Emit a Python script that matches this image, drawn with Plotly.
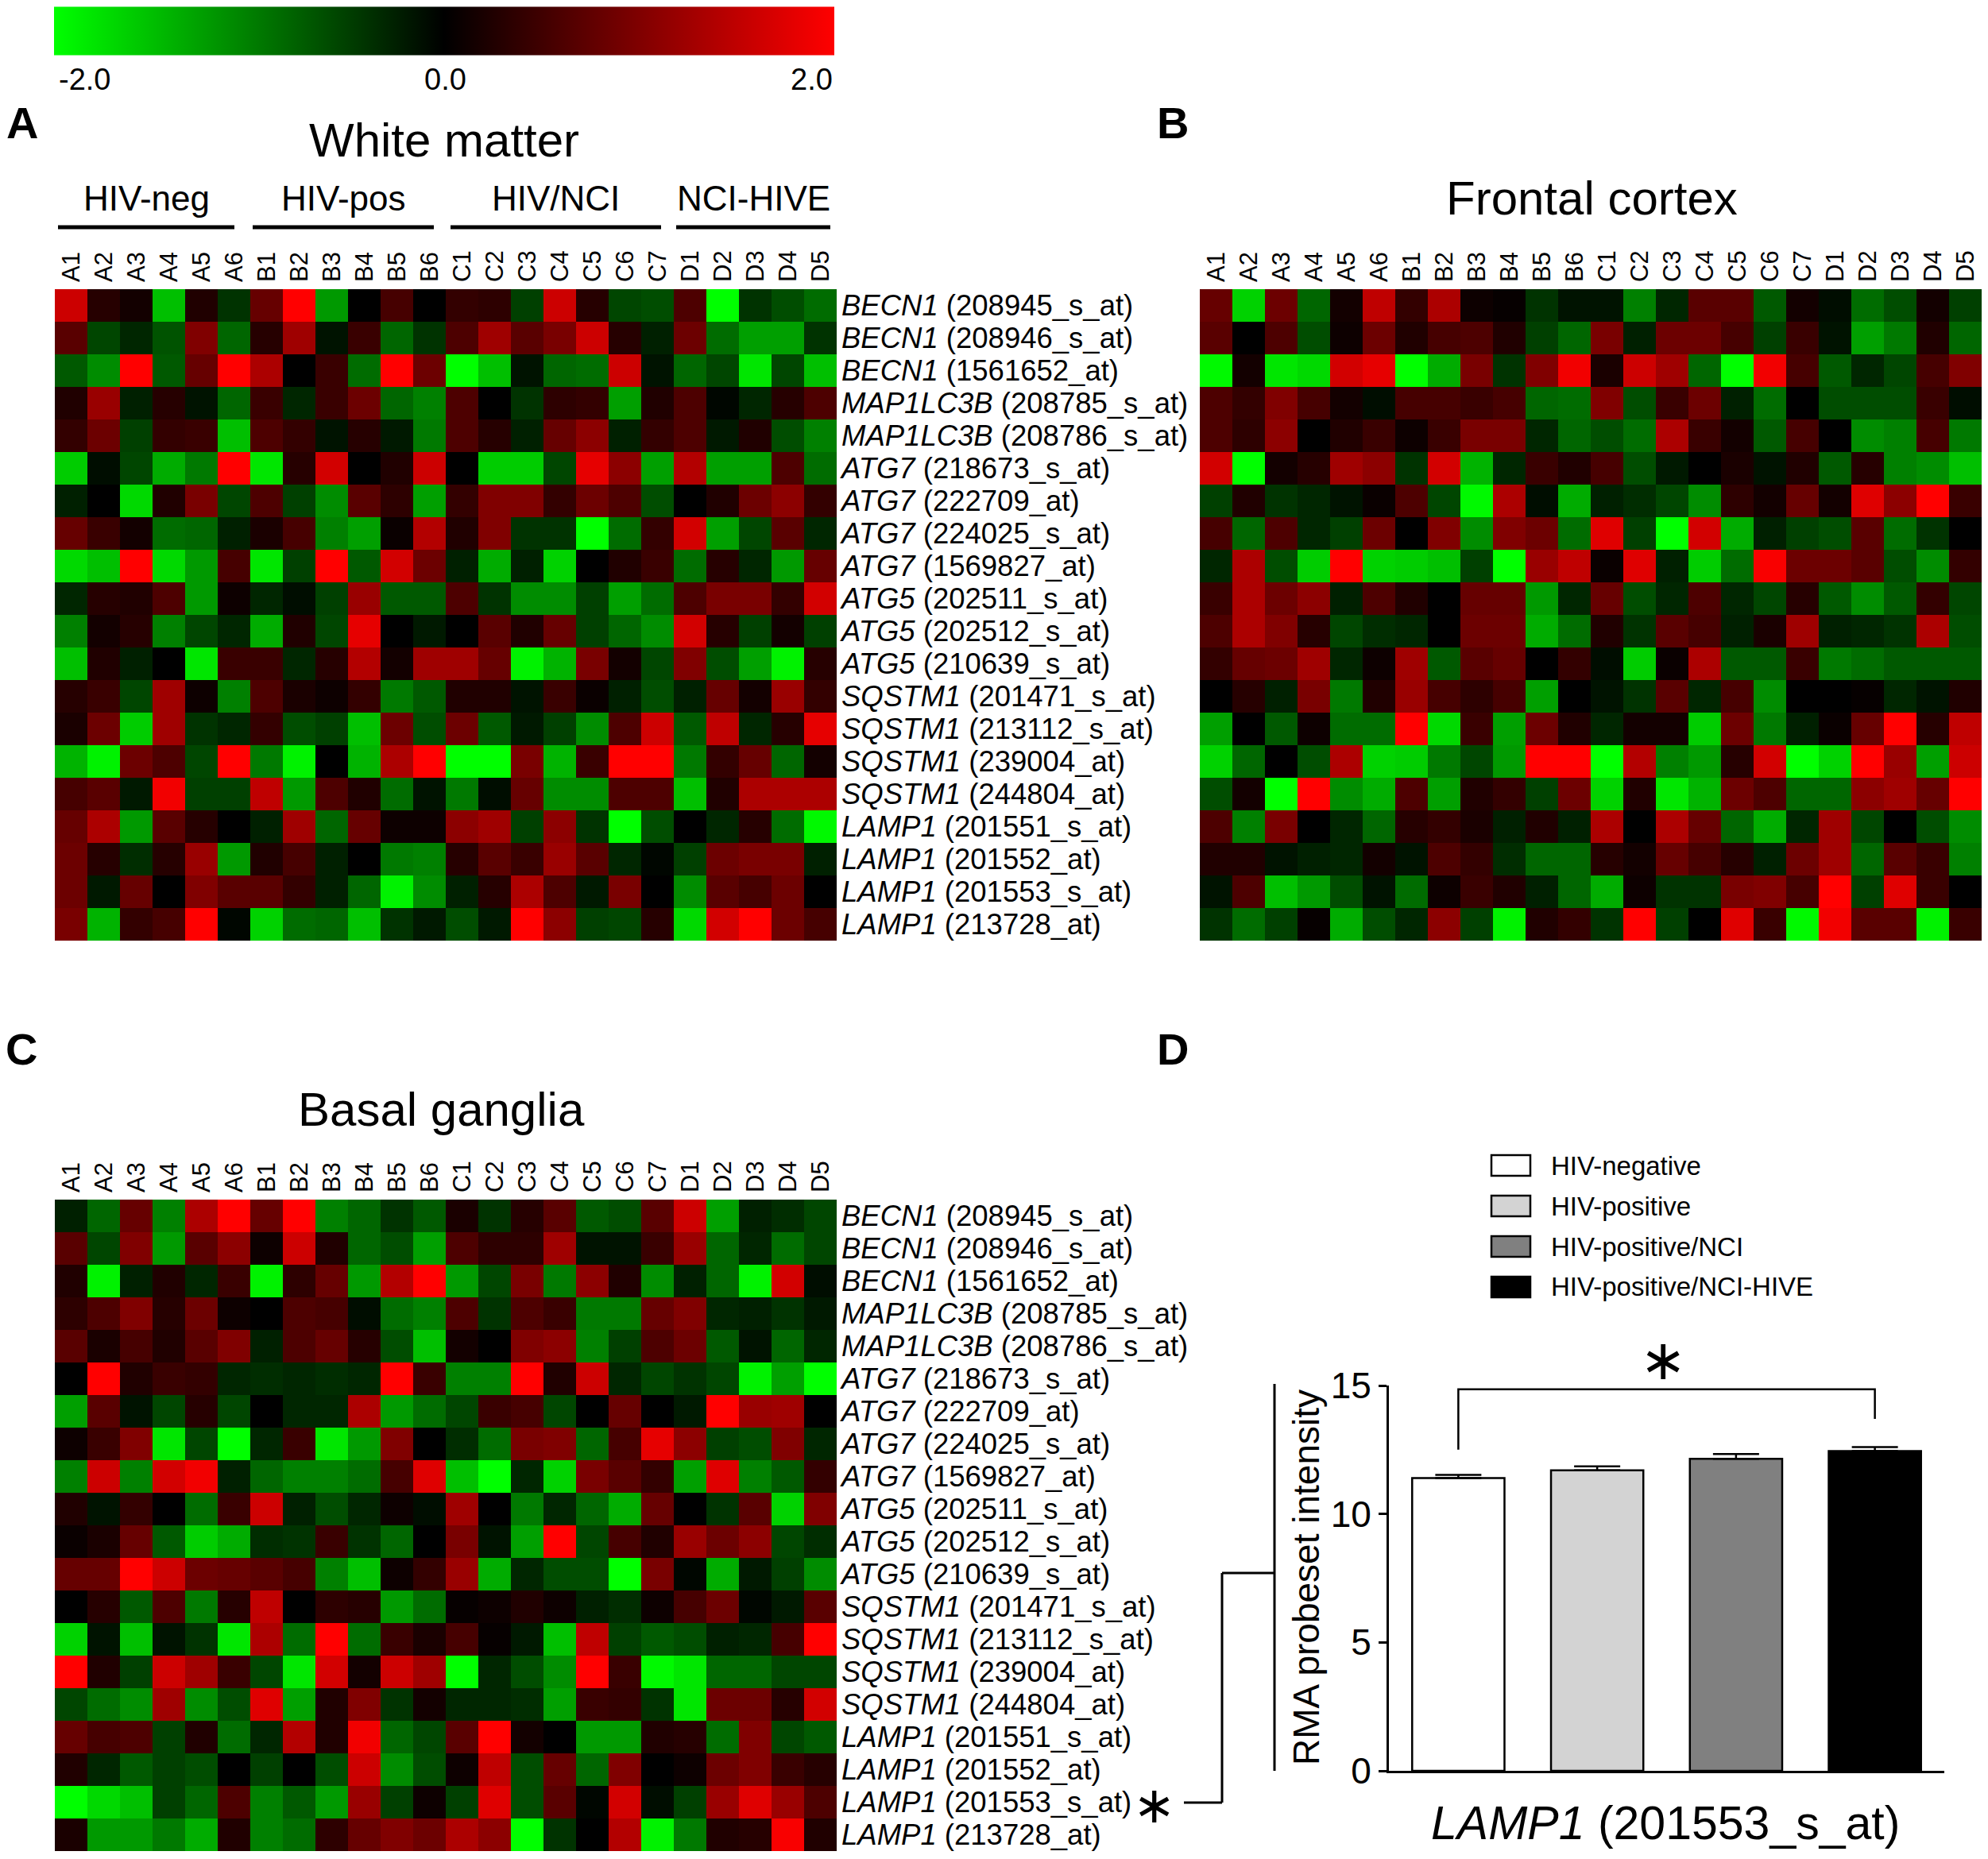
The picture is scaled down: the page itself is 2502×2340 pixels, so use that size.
import plotly.graph_objects as go

# page has an 8px body margin, so the figure is drawn 8px smaller and positions are shifted
OFF = 8
W, H = 2502 - OFF, 2340 - OFF
FONT = "Liberation Sans, Arial, sans-serif"

# sample columns (same for all three regions)
samples = ['A1', 'A2', 'A3', 'A4', 'A5', 'A6', 'B1', 'B2', 'B3', 'B4', 'B5', 'B6',
           'C1', 'C2', 'C3', 'C4', 'C5', 'C6', 'C7', 'D1', 'D2', 'D3', 'D4', 'D5']

genes = ['BECN1', 'BECN1', 'BECN1', 'MAP1LC3B', 'MAP1LC3B', 'ATG7', 'ATG7', 'ATG7', 'ATG7',
         'ATG5', 'ATG5', 'ATG5', 'SQSTM1', 'SQSTM1', 'SQSTM1', 'SQSTM1',
         'LAMP1', 'LAMP1', 'LAMP1', 'LAMP1']
probes = ['208945_s_at', '208946_s_at', '1561652_at', '208785_s_at', '208786_s_at',
          '218673_s_at', '222709_at', '224025_s_at', '1569827_at', '202511_s_at',
          '202512_s_at', '210639_s_at', '201471_s_at', '213112_s_at', '239004_at',
          '244804_at', '201551_s_at', '201552_at', '201553_s_at', '213728_at']

# White matter
wm_z = [
    [1.6, 0.3, 0.15, -1.5, 0.25, -0.4, 0.8, 2.0, -1.2, 0.0, 0.55, 0.0, 0.4, 0.35, -0.5, 1.6, 0.3, -0.55, -0.6, 0.6, -2.0, -0.4, -0.6, -0.85],
    [0.7, -0.55, -0.3, -0.65, 1.0, -0.8, 0.3, 1.25, -0.15, 0.45, -0.8, -0.4, 0.6, 1.25, 0.7, 0.95, 1.6, 0.3, -0.25, 0.85, -0.85, -1.25, -1.25, -0.4],
    [-0.7, -1.1, 2.0, -0.7, 0.8, 2.0, 1.35, 0.0, 0.45, -0.85, 2.0, 0.85, -2.0, -1.5, -0.15, -0.8, -0.85, 1.6, -0.15, -0.8, -0.55, -1.8, -0.55, -1.5],
    [0.25, 1.2, -0.25, 0.3, -0.15, -0.8, 0.45, -0.3, 0.45, 0.85, -0.8, -1.0, 0.6, 0.0, -0.4, 0.35, 0.4, -1.25, 0.25, 0.6, -0.05, -0.3, 0.3, 0.6],
    [0.4, 0.85, -0.5, 0.4, 0.45, -1.5, 0.6, 0.4, -0.15, 0.3, -0.2, -0.95, 0.6, 0.3, -0.25, 0.8, 1.1, -0.25, 0.4, 0.6, -0.2, 0.25, -0.6, -1.0],
    [-1.6, -0.1, -0.55, -1.35, -0.95, 2.0, -1.8, 0.3, 1.65, 0.0, 0.25, 1.6, 0.0, -1.6, -1.6, -0.55, 1.8, 1.1, -1.25, 1.4, -1.25, -1.25, 0.6, -0.85],
    [-0.25, 0.0, -1.7, 0.25, 0.95, -0.55, 0.6, -0.5, -1.1, 0.7, 0.35, -1.25, 0.4, 1.0, 1.0, 0.4, 0.85, 0.6, -0.6, 0.0, 0.25, 0.85, 1.1, 0.4],
    [0.8, 0.45, 0.15, -0.85, -0.8, -0.25, 0.2, 0.55, -1.0, -1.25, 0.08, 1.4, 0.25, 1.0, -0.4, -0.4, -2.0, -0.85, 0.4, 1.65, -1.25, -0.55, 0.7, -0.3],
    [-1.7, -1.5, 2.0, -1.7, -1.2, 0.55, -1.8, -0.5, 2.0, -0.7, 1.65, 0.85, -0.25, -1.35, -0.25, -1.65, 0.0, 0.25, 0.45, -0.85, 0.3, -0.3, -1.2, 0.8],
    [-0.3, 0.3, 0.25, 0.6, -1.2, 0.1, -0.3, -0.1, -0.5, 1.2, -0.7, -0.7, 0.6, -0.4, -1.1, -1.1, -0.5, -1.25, -0.85, 0.6, 0.95, 0.95, 0.4, 1.65],
    [-1.0, 0.15, 0.3, -1.0, -0.55, -0.3, -1.35, 0.25, -0.55, 1.8, 0.0, -0.2, 0.0, 0.7, 0.25, 0.8, -0.5, -0.8, -1.1, 1.65, 0.3, -0.5, 0.15, -0.5],
    [-1.5, 0.25, -0.25, 0.0, -1.8, 0.45, 0.45, -0.3, 0.3, 1.4, 0.15, 1.25, 1.25, 0.8, -1.9, -1.4, 0.95, 0.15, -0.55, 1.0, -0.6, -1.25, -1.9, 0.3],
    [0.3, 0.45, -0.55, 1.25, 0.1, -1.0, 0.6, 0.2, 0.1, 0.4, -0.95, -0.7, 0.25, 0.25, -0.15, 0.45, 0.08, -0.25, -0.6, -0.25, 0.8, 0.15, 1.2, 0.4],
    [0.2, 0.85, -1.6, 1.25, -0.4, -0.3, 0.4, -0.6, -0.5, -1.5, 0.85, -0.6, 0.85, -0.7, -0.2, -0.5, -1.1, 0.6, 1.6, -0.7, 1.5, -0.3, 0.3, 1.8],
    [-1.4, -1.9, 0.85, 0.6, -0.55, 2.0, -0.95, -1.9, 0.0, -1.4, 1.35, 2.0, -2.0, -2.0, 0.95, -1.4, 0.45, 2.0, 2.0, -0.95, 0.4, 0.8, -0.8, 0.15],
    [0.55, 0.7, -0.2, 1.9, -0.5, -0.5, 1.5, -1.2, 0.6, 0.25, -0.85, -0.15, -0.95, -0.1, 0.8, -1.1, -1.1, 0.6, 0.6, -1.5, 0.25, 1.35, 1.35, 1.35],
    [0.8, 1.35, -1.2, 0.7, 0.3, 0.0, -0.25, 1.25, -0.8, 0.8, 0.1, 0.1, 1.1, 1.25, -0.5, 1.1, -0.4, -2.0, -0.6, 0.0, -0.3, 0.3, -0.85, -1.95],
    [0.85, 0.3, -0.35, 0.3, 1.2, -1.2, 0.25, 0.55, -0.25, 0.0, -0.95, -1.0, 0.3, 0.7, 0.45, 1.2, 0.7, -0.3, -0.05, -0.5, 0.85, 0.95, 0.95, -0.25],
    [0.85, -0.2, 0.8, 0.0, 1.0, 0.7, 0.7, 0.4, -0.25, -0.8, -1.9, -1.1, -0.25, 0.3, 1.35, 0.6, -0.2, 0.95, 0.0, -1.1, 0.7, 0.55, 0.85, 0.0],
    [0.95, -1.4, 0.4, 0.55, 2.0, -0.05, -1.65, -0.85, -0.8, -1.5, -0.4, -0.2, -0.6, -0.2, 2.0, 1.1, -0.5, -0.55, 0.3, -1.7, 1.65, 2.0, 0.85, 0.55],
]

# Frontal cortex
fc_z = [
    [0.8, -1.65, 0.85, -0.8, 0.15, 1.5, 0.4, 1.35, 0.1, 0.05, -0.4, -0.15, -0.15, -1.0, -0.3, 0.7, 0.7, -0.7, 0.15, -0.1, -0.85, -0.6, 0.15, -0.5],
    [0.7, 0.0, 0.6, -0.6, 0.1, 0.85, 0.25, 0.55, 0.6, 0.25, -0.5, -0.8, 0.95, -0.25, 0.85, 0.85, 0.55, -0.5, 0.45, -0.15, -1.25, -0.95, 0.25, -0.8],
    [-1.95, 0.15, -1.8, -1.7, 1.65, 1.8, -2.0, -1.35, 0.95, -0.4, 1.0, 1.9, 0.2, 1.6, 1.25, -0.8, -2.0, 1.9, 0.55, -0.7, -0.3, -0.55, 0.55, 1.0],
    [0.6, 0.4, 1.0, 0.55, 0.15, -0.1, 0.55, 0.55, 0.45, 0.55, -0.8, -0.85, 1.0, -0.6, 0.45, 0.85, -0.25, -0.85, 0.0, -0.6, -0.6, -0.6, 0.45, -0.1],
    [0.6, 0.35, 1.1, 0.0, 0.25, 0.45, 0.1, 0.45, 0.95, 0.95, -0.3, -0.8, -0.6, -0.85, 1.35, 0.45, 0.15, -0.7, 0.55, 0.0, -1.1, -1.0, 0.55, -0.95],
    [1.65, -2.0, 0.15, 0.3, 1.25, 1.1, -0.4, 1.65, -1.4, -0.3, 0.45, 0.25, 0.55, -0.6, -0.2, 0.0, 0.2, -0.15, 0.25, -0.7, 0.3, -1.0, -1.1, -1.5],
    [-0.5, 0.25, -0.4, -0.3, -0.15, 0.08, 0.6, -0.55, -1.95, 1.35, -0.1, -1.35, -0.25, -0.35, -0.55, -1.1, 0.35, 0.15, 0.8, 0.15, 1.75, 1.1, 2.0, 0.45],
    [0.55, -0.8, 0.6, -0.3, -0.5, 0.85, 0.0, 1.0, -1.1, 1.0, 0.85, -0.85, 1.75, -0.5, -2.0, 1.65, -1.35, -0.25, -0.5, -0.6, 0.7, -0.85, -0.4, 0.0],
    [-0.3, 1.35, -0.6, -1.6, 2.0, -1.65, -1.6, -1.5, -0.5, -2.0, 1.2, 1.5, 0.08, 1.75, -0.25, -1.6, -0.85, 1.95, 0.85, 0.85, 0.7, -0.6, -1.1, 0.4],
    [0.45, 1.35, 0.85, 1.1, -0.25, 0.6, 0.25, 0.0, 0.8, 0.8, -1.2, -0.3, 0.8, -0.6, -0.3, 0.6, -0.3, -0.55, 0.3, -0.7, -1.1, -0.7, 0.4, -0.55],
    [0.6, 1.35, 1.0, 0.3, -0.55, -0.35, -0.3, 0.0, 0.85, 0.85, -1.35, -0.85, 0.25, -0.4, 0.7, 0.55, -0.25, 0.2, 1.25, -0.25, -0.3, -0.4, 1.35, -0.6],
    [0.4, 0.8, 0.85, 1.25, -0.3, 0.1, 1.25, -0.7, 0.7, 0.8, 0.0, 0.4, -0.1, -1.6, 0.08, 1.35, -0.7, -0.7, 0.45, -0.95, -0.85, -0.7, -0.7, -0.7],
    [0.0, 0.3, -0.25, 0.95, -0.95, 0.25, 1.2, 0.55, 0.35, 0.55, -1.25, 0.0, -0.15, -0.4, 0.7, -0.3, 0.55, -1.1, 0.0, 0.0, 0.05, -0.3, -0.15, 0.25],
    [-1.25, 0.0, -0.7, 0.1, -0.85, -0.85, 2.0, -1.7, 0.45, -1.25, 0.85, 0.25, -0.3, 0.15, 0.15, -1.6, 0.85, -0.95, -0.25, 0.08, 0.8, 2.0, 0.3, 1.5],
    [-1.65, -0.8, 0.0, -0.6, 1.35, -1.65, -1.6, -0.95, -0.55, -1.2, 2.0, 2.0, -2.0, 1.4, -1.0, -1.2, 0.3, 1.65, -2.0, -1.65, 2.0, 1.2, -1.25, 1.6],
    [-0.6, 0.15, -2.0, 2.0, -1.1, -1.35, 0.6, -1.25, 0.25, 0.4, -0.5, 0.85, -1.65, 0.25, -1.8, -1.4, 0.85, 0.6, -0.8, -0.8, 1.1, 1.25, 0.8, 2.0],
    [0.6, -1.0, 0.95, 0.0, -0.3, -0.8, 0.3, 0.4, 0.2, -0.25, 0.25, -0.25, 1.35, 0.0, 1.35, 0.8, -0.8, -1.35, -0.3, 1.25, -0.55, 0.0, -0.6, -1.1],
    [0.25, 0.25, -0.15, -0.25, -0.3, 0.15, -0.15, 0.6, 0.4, -0.35, -0.8, -0.8, 0.3, 0.15, 0.8, 0.55, 0.3, -0.25, 0.85, 1.25, -0.8, 0.7, 0.45, -1.0],
    [-0.15, 0.6, -1.5, -1.2, -0.6, -0.15, -0.85, 0.1, 0.45, 0.25, -0.25, -0.8, -1.35, 0.1, -0.4, -0.4, 0.95, 1.0, 0.55, 2.0, -0.5, 1.75, 0.45, 0.0],
    [-0.4, -0.85, -0.5, 0.05, -1.35, -0.6, -0.3, 1.1, -0.5, -1.9, 0.25, 0.4, -0.4, 2.0, -0.5, 0.0, 1.75, 0.45, -1.95, 1.9, 0.7, 0.7, -1.9, 0.45],
]

# Basal ganglia
bg_z = [
    [-0.25, -0.8, 0.8, -1.0, 1.35, 2.0, 0.8, 2.0, -1.0, -0.8, -0.4, -0.7, 0.2, -0.4, 0.3, 0.7, -0.7, -0.6, 0.7, 1.6, -1.25, -0.25, -0.35, -0.55],
    [0.7, -0.55, 1.0, -1.2, 0.7, 1.1, 0.1, 1.6, 0.25, -0.8, -0.6, -1.25, 0.6, 0.35, 0.35, 1.25, -0.15, -0.15, 0.45, 1.2, -0.8, -0.3, -0.85, -0.55],
    [0.25, -1.9, -0.25, 0.25, -0.3, 0.45, -1.9, 0.35, 0.8, -1.2, 1.4, 2.0, -1.2, -0.55, 0.95, -0.95, 1.1, 0.25, -1.1, -0.25, -0.8, -1.9, 1.65, -0.1],
    [0.35, 0.6, 1.0, 0.3, 0.85, 0.1, 0.0, 0.6, 0.55, -0.1, -0.85, -1.0, 0.6, -0.4, 0.6, 0.45, -0.95, -0.95, 0.8, 1.0, -0.3, -0.25, -0.4, -0.2],
    [0.7, 0.2, 0.55, 0.25, 0.7, 1.0, -0.25, 0.6, 0.8, 0.3, -0.6, -1.5, 0.15, 0.0, 1.0, 1.1, -1.0, -0.5, 0.6, 0.85, -0.7, -0.15, -0.8, -0.3],
    [0.0, 2.0, 0.25, 0.45, 0.4, -0.3, -0.35, -0.3, -0.35, -0.3, 2.0, 0.45, -1.0, -1.0, 2.0, 0.25, 1.6, -0.3, -0.55, -0.4, -0.55, -1.9, -1.25, -2.0],
    [-1.25, 0.7, -0.15, -0.55, 0.3, -0.55, 0.0, -0.3, -0.3, 1.35, -1.2, -0.85, -0.55, 0.45, 0.55, -0.55, 0.0, 0.8, 0.0, -0.2, 2.0, 1.2, 1.25, 0.0],
    [0.1, 0.45, 1.0, -1.8, -0.55, -2.0, -0.3, 0.45, -1.8, -1.2, 1.0, 0.0, -0.35, -0.85, 0.95, 1.0, -0.8, 0.55, 1.8, 1.1, -0.5, -0.6, 1.0, -0.3],
    [-1.0, 1.6, -1.0, 1.65, 1.9, -0.25, -0.8, -1.0, -1.0, -0.85, 0.55, 1.75, -1.5, -2.0, -0.3, -1.65, 0.95, 0.7, 0.4, -1.25, 1.75, -1.0, -0.7, 0.4],
    [0.25, -0.15, 0.4, 0.0, -0.85, 0.45, 1.6, -0.25, -0.6, -0.3, 0.1, -0.1, 1.25, 0.0, -0.95, -0.3, -0.8, -1.35, 0.8, 0.0, -0.4, 0.7, -1.65, 1.0],
    [0.08, 0.2, 0.8, -0.7, -1.6, -1.35, -0.35, -0.4, 0.45, -0.4, -0.8, 0.0, 0.95, -0.15, -1.25, 2.0, -0.55, 0.55, 0.25, 1.2, 0.85, 1.1, -0.55, -0.35],
    [0.8, 0.8, 2.0, 1.6, 0.85, 0.8, 0.7, 0.55, -1.0, -1.5, 0.1, 0.4, 1.2, -1.35, -0.3, -0.6, -0.6, -2.0, 0.95, -0.05, -1.35, -0.2, -0.5, -1.1],
    [0.0, 0.3, -0.7, 0.6, -0.95, 0.3, 1.5, 0.0, 0.35, 0.3, -1.2, -0.85, 0.05, 0.1, 0.25, 0.1, -0.25, -0.35, 0.1, 0.55, 0.85, -0.05, -0.2, 0.7],
    [-1.65, -0.15, -1.5, -0.15, -0.4, -1.8, 1.35, -0.85, 2.0, -0.85, 0.45, 0.2, 0.55, 0.05, -0.2, -1.5, 1.5, -0.5, -0.7, -0.6, -0.25, -0.3, 0.55, 2.0],
    [2.0, 0.25, -0.5, 1.6, 1.25, 0.45, -0.55, -1.8, 1.65, 0.15, 1.6, 1.25, -2.0, -0.3, -0.6, -1.1, 2.0, 0.45, -1.95, -1.8, -0.8, -0.8, -0.55, -0.55],
    [-0.55, -0.85, -1.1, 1.25, -1.1, -0.6, 1.75, -1.25, 0.25, 1.0, -0.4, 0.15, -0.3, -0.3, -0.35, -1.25, 0.45, 0.4, -0.4, -1.8, 0.85, 0.85, 0.3, 1.65],
    [0.8, 0.55, 0.6, -0.5, 0.25, -0.85, -0.3, 1.4, 0.25, 1.9, -0.8, -0.55, 0.7, 2.0, 0.15, 0.0, -1.2, -1.2, 0.25, 0.3, -0.85, 1.0, -0.55, -0.7],
    [0.25, -0.3, -0.7, -0.5, -0.6, 0.0, -0.5, 0.0, -0.6, 1.6, -1.1, -0.6, 0.1, 1.5, -0.6, 0.8, -0.8, 1.0, 0.0, 0.1, 0.85, 1.0, 0.45, 0.3],
    [-2.0, -1.7, -1.5, -0.5, -0.8, 0.6, -1.0, -0.7, -1.2, 1.2, -0.5, 0.1, -0.5, 1.75, -0.6, 0.7, -0.05, 1.65, -0.1, -0.5, 1.2, 1.75, 1.2, 0.6],
    [0.2, -1.2, -1.2, -0.95, -1.35, 0.25, -1.0, -0.85, 0.35, 0.8, 1.0, 0.85, 1.35, 1.1, -2.0, -0.4, 0.0, 1.4, -1.9, -0.95, 0.25, 0.3, 1.95, 0.25],
]

# LAMP1 (201553_s_at) RMA intensity
groups = ['HIV-negative', 'HIV-positive', 'HIV-positive/NCI', 'HIV-positive/NCI-HIVE']
means = [11.4, 11.7, 12.15, 12.45]
sems = [0.12, 0.15, 0.18, 0.15]
bar_colors = ['#ffffff', '#d3d3d3', '#808080', '#000000']
bracket_y = 14.85
bracket_ends = [12.5, 13.7]

green_black_red = [[0, '#00ff00'], [0.5, '#000000'], [1, '#ff0000']]


def px(x):
    return (x - OFF) / W


def py(y):
    return 1 - (y - OFF) / H


row_labels = ['<i>%s</i> (%s)' % (g, p) for g, p in zip(genes, probes)]
cols = list(range(len(samples)))
rows = list(range(len(genes)))

fig = go.Figure()
for z, xa, ya, scale in [(wm_z, 'x', 'y', True), (fc_z, 'x2', 'y2', False), (bg_z, 'x3', 'y3', False)]:
    fig.add_trace(go.Heatmap(
        z=z, x=cols, y=rows, xaxis=xa, yaxis=ya,
        colorscale=green_black_red, zmin=-2, zmax=2, showscale=scale,
        colorbar=dict(orientation='h', x=px(559), xanchor='center', y=py(38.5), yanchor='middle',
                      len=982, lenmode='pixels', thickness=61, outlinewidth=0,
                      showticklabels=False, ticks='', xpad=0, ypad=0),
        hoverinfo='skip'))

fig.add_trace(go.Bar(
    x=list(range(len(groups))), y=means, xaxis='x4', yaxis='y4', width=0.665,
    marker=dict(color=bar_colors, line=dict(color='black', width=2.5)),
    error_y=dict(type='data', array=sems, arrayminus=[0] * len(sems), symmetric=False,
                 color='black', thickness=2.5, width=29),
    showlegend=False))

col_axis = dict(side='top', range=[-0.5, 23.5], tickvals=cols, ticktext=samples, tickangle=-90,
                tickfont=dict(size=31, family=FONT, color='black'), showgrid=False, zeroline=False,
                showline=False, ticks='', ticklabelstandoff=8)
row_axis = dict(side='right', range=[19.5, -0.5], tickvals=rows, ticktext=row_labels,
                tickfont=dict(size=36.5, family=FONT, color='black'), showgrid=False, zeroline=False,
                showline=False, ticks='', ticklabelstandoff=5)

hm_top = (364, 1184)
hm_bot = (1510, 2330)
fig.update_layout(
    width=W, height=H, margin=dict(l=0, r=0, t=0, b=0, autoexpand=False),
    paper_bgcolor='white', plot_bgcolor='white', font=dict(family=FONT, color='black'),
    xaxis=dict(col_axis, domain=[px(69), px(1053)], anchor='y'),
    yaxis=dict(row_axis, domain=[py(hm_top[1]), py(hm_top[0])], anchor='x'),
    xaxis2=dict(col_axis, domain=[px(1510), px(2494)], anchor='y2'),
    yaxis2=dict(row_axis, domain=[py(hm_top[1]), py(hm_top[0])], anchor='x2', showticklabels=False),
    xaxis3=dict(col_axis, domain=[px(69), px(1053)], anchor='y3'),
    yaxis3=dict(row_axis, domain=[py(hm_bot[1]), py(hm_bot[0])], anchor='x3'),
    xaxis4=dict(domain=[px(1748), px(2447)], anchor='y4', range=[-0.5, 3.5], showline=True,
                linewidth=3, linecolor='black', showticklabels=False, ticks='', showgrid=False,
                zeroline=False),
    yaxis4=dict(domain=[py(2229), py(1744)], anchor='x4', range=[0, 15], tickvals=[0, 5, 10, 15],
                ticks='outside', ticklen=10, tickwidth=3, tickcolor='black', showline=True,
                linewidth=3, linecolor='black', showgrid=False, zeroline=False,
                tickfont=dict(size=46, family=FONT, color='black')),
)

ann = []


def text(x, y, s, size, xanchor='center', yanchor='middle', angle=0, family=FONT):
    ann.append(dict(x=px(x), y=py(y), xref='paper', yref='paper', text=s, showarrow=False,
                    xanchor=xanchor, yanchor=yanchor, textangle=angle,
                    font=dict(size=size, family=family, color='black')))


# colour key labels
text(72, 100, '-2.0', 38, xanchor='left')
text(560, 100, '0.0', 38)
text(1050, 100, '2.0', 38, xanchor='right')

# panel letters and titles
for lab, x, y in [('A', 28, 154), ('B', 1476, 155), ('C', 27, 1320), ('D', 1476, 1320)]:
    text(x, y, '<b>%s</b>' % lab, 56)
text(559, 176, 'White matter', 60)
text(2003, 250, 'Frontal cortex', 60)
text(555, 1396, 'Basal ganglia', 60)

# group headers over white matter
group_names = ['HIV-neg', 'HIV-pos', 'HIV/NCI', 'NCI-HIVE']
group_spans = [(73, 295), (318, 546), (567, 832), (851, 1045)]
shapes = []
for name, (x0, x1) in zip(group_names, group_spans):
    text((x0 + x1) / 2, 250, name, 44)
    shapes.append(dict(type='line', xref='paper', yref='paper', x0=px(x0), x1=px(x1),
                       y0=py(286), y1=py(286), line=dict(color='black', width=5)))

# marker next to the LAMP1 probe in basal ganglia and link to panel D
text(1453, 2272, '\u2217', 64, family='DejaVu Sans')
for x0, y0, x1, y1 in [(1490, 2269, 1538, 2269), (1538, 2269, 1538, 1980),
                       (1538, 1980, 1604, 1980), (1604, 1742, 1604, 2229)]:
    shapes.append(dict(type='line', xref='paper', yref='paper', x0=px(x0), y0=py(y0),
                       x1=px(x1), y1=py(y1), line=dict(color='black', width=3)))

# bar chart texts
text(1644, 1986, 'RMA probeset intensity', 46, angle=-90)
text(2096, 2295, '<i>LAMP1</i> (201553_s_at)', 59)
text(2093, 1712, '\u2217', 70, family='DejaVu Sans')

# significance bracket between first and last group
shapes.append(dict(type='path', xref='x4', yref='y4',
                   path='M 0,%s L 0,%s L 3,%s L 3,%s' % (bracket_ends[0], bracket_y, bracket_y, bracket_ends[1]),
                   line=dict(color='black', width=2.5)))

# legend
for i, (g, c) in enumerate(zip(groups, bar_colors)):
    yc = 1467 + i * 51
    shapes.append(dict(type='rect', xref='paper', yref='paper', x0=px(1877), x1=px(1926),
                       y0=py(yc + 13), y1=py(yc - 13), fillcolor=c, line=dict(color='black', width=2.5)))
    text(1950, yc, g, 33, xanchor='left')

fig.update_layout(annotations=ann, shapes=shapes)
fig.write_html("out.html")
